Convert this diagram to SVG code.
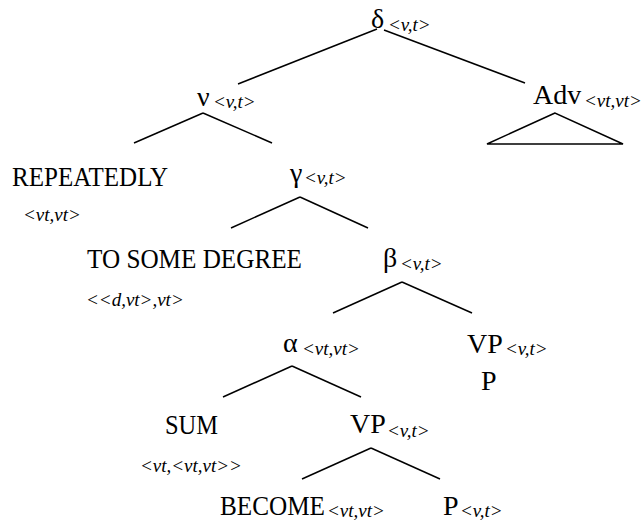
<svg xmlns="http://www.w3.org/2000/svg" width="644" height="524" viewBox="0 0 644 524">
<style>
  text { font-family: "Liberation Serif", "Times New Roman", serif; fill: #000; }
  .n { font-size: 28px; }
  .w { font-size: 27px; }
  .s { font-size: 19px; font-style: italic; }
  .e { stroke: #000; stroke-width: 1.5; fill: none; }
</style>
<rect width="644" height="524" fill="#fff"/>
<g id="connectors" class="e">
  <line x1="377" y1="29" x2="238" y2="84"/>
  <line x1="384" y1="30" x2="525" y2="83"/>
  <line x1="203" y1="113" x2="134" y2="143"/>
  <line x1="203" y1="113" x2="272" y2="143"/>
  <line x1="300" y1="197" x2="231" y2="228"/>
  <line x1="300" y1="197" x2="368" y2="228"/>
  <line x1="402" y1="282" x2="333" y2="313"/>
  <line x1="402" y1="282" x2="472" y2="313"/>
  <line x1="292" y1="366" x2="223" y2="397"/>
  <line x1="292" y1="366" x2="361" y2="397"/>
  <line x1="371" y1="448" x2="302" y2="479"/>
  <line x1="371" y1="448" x2="440" y2="479"/>
</g>
<g id="delta"><text class="n" x="371" y="28">δ</text><text class="s" x="388" y="31">&lt;v,t&gt;</text></g>
<g id="adv">
  <text class="n" x="533" y="104">Adv</text><text class="s" x="584" y="107">&lt;vt,vt&gt;</text>
  <polygon class="e" points="555,113 487,144 623,144"/>
</g>
<g id="nu"><text class="n" x="197" y="106">ν</text><text class="s" x="213" y="108">&lt;v,t&gt;</text></g>
<g id="repeatedly"><text class="w" x="12" y="186" textLength="156" lengthAdjust="spacingAndGlyphs">REPEATEDLY</text><text class="s" x="23" y="221">&lt;vt,vt&gt;</text></g>
<g id="gamma"><text class="n" x="290" y="182">γ</text><text class="s" x="304" y="184">&lt;v,t&gt;</text></g>
<g id="to-some-degree"><text class="w" x="87" y="268" textLength="215" lengthAdjust="spacingAndGlyphs">TO SOME DEGREE</text><text class="s" x="86" y="306">&lt;&lt;d,vt&gt;,vt&gt;</text></g>
<g id="beta"><text class="n" x="383" y="267">β</text><text class="s" x="400" y="270">&lt;v,t&gt;</text></g>
<g id="alpha"><text class="n" x="283" y="352">α</text><text class="s" x="302" y="355">&lt;vt,vt&gt;</text></g>
<g id="vp-upper"><text class="n" x="467" y="353">VP</text><text class="s" x="505" y="355">&lt;v,t&gt;</text><text class="n" x="481" y="390">P</text></g>
<g id="sum"><text class="w" x="165" y="434" textLength="53" lengthAdjust="spacingAndGlyphs">SUM</text><text class="s" x="140" y="472">&lt;vt,&lt;vt,vt&gt;&gt;</text></g>
<g id="vp-lower"><text class="n" x="350" y="433">VP</text><text class="s" x="387" y="437">&lt;v,t&gt;</text></g>
<g id="become"><text class="w" x="220" y="515" textLength="105" lengthAdjust="spacingAndGlyphs">BECOME</text><text class="s" x="327" y="517">&lt;vt,vt&gt;</text></g>
<g id="p"><text class="n" x="443" y="515">P</text><text class="s" x="460" y="517">&lt;v,t&gt;</text></g>
</svg>
